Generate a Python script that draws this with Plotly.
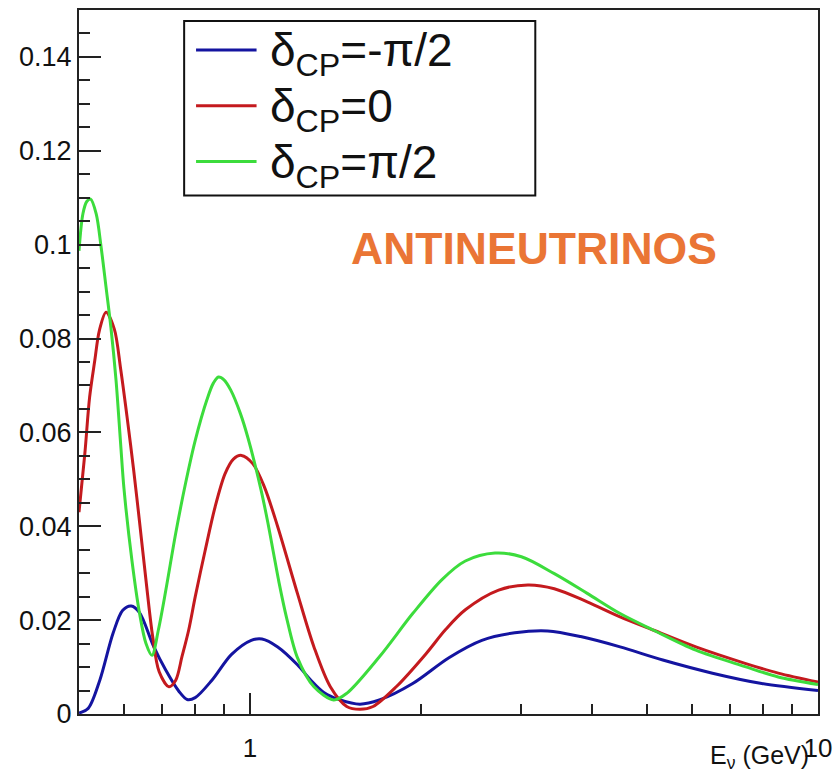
import numpy as np
import plotly.graph_objects as go

# ---------------- data ----------------
energy_green = [0.500, 0.508, 0.516, 0.524, 0.536, 0.547, 0.558, 0.569, 0.581, 0.592,
                0.600, 0.620, 0.639, 0.656, 0.672, 0.690, 0.711, 0.740, 0.770, 0.801,
                0.840, 0.862, 0.880, 0.900, 0.925, 0.962, 0.992, 1.046, 1.075, 1.100,
                1.125, 1.160, 1.212, 1.296, 1.404, 1.480, 1.690, 1.934, 2.180, 2.394,
                2.700, 3.005, 3.434, 3.924, 4.483, 5.124, 6.095, 7.440, 8.510, 10.0]
prob_green = [0.0987, 0.1066, 0.1092, 0.1097, 0.1066, 0.0994, 0.0909, 0.0824, 0.0711, 0.0575,
              0.0480, 0.0325, 0.0215, 0.0150, 0.0125, 0.0180, 0.0264, 0.0385, 0.0491, 0.0583,
              0.0670, 0.0705, 0.0718, 0.0712, 0.0690, 0.0640, 0.0588, 0.0477, 0.0408, 0.0343,
              0.0280, 0.0205, 0.0120, 0.0058, 0.0030, 0.0044, 0.0122, 0.0214, 0.0287, 0.0326,
              0.0343, 0.0335, 0.0299, 0.0257, 0.0214, 0.0179, 0.0136, 0.0101, 0.0079, 0.0063]

energy_red = [0.500, 0.512, 0.522, 0.533, 0.543, 0.558, 0.577, 0.592, 0.608, 0.624,
              0.639, 0.656, 0.674, 0.692, 0.720, 0.740, 0.759, 0.780, 0.801, 0.834,
              0.868, 0.904, 0.935, 0.966, 1.012, 1.060, 1.119, 1.212, 1.296, 1.385,
              1.480, 1.562, 1.647, 1.809, 2.040, 2.210, 2.394, 2.740, 3.085, 3.434,
              3.924, 4.483, 5.124, 6.095, 7.440, 8.510, 10.0]
prob_red = [0.0430, 0.0555, 0.0675, 0.0753, 0.0817, 0.0856, 0.0820, 0.0735, 0.0630, 0.0520,
            0.0410, 0.0285, 0.0165, 0.0090, 0.0058, 0.0072, 0.0122, 0.0179, 0.0250, 0.0349,
            0.0441, 0.0512, 0.0543, 0.0551, 0.0533, 0.0484, 0.0399, 0.0257, 0.0143, 0.0058,
            0.0016, 0.0010, 0.0016, 0.0058, 0.0128, 0.0180, 0.0222, 0.0264, 0.0275, 0.0267,
            0.0239, 0.0207, 0.0179, 0.0143, 0.0108, 0.0087, 0.0068]

energy_blue = [0.500, 0.519, 0.544, 0.574, 0.597, 0.618, 0.639, 0.676, 0.711, 0.750,
               0.775, 0.801, 0.857, 0.928, 1.005, 1.050, 1.119, 1.212, 1.280, 1.349,
               1.441, 1.562, 1.690, 1.934, 2.240, 2.560, 2.925, 3.342, 3.820, 4.483,
               5.330, 6.520, 7.960, 10.0]
prob_blue = [0.0002, 0.0012, 0.0072, 0.0172, 0.0221, 0.0230, 0.0216, 0.0145, 0.0093, 0.0048,
             0.0031, 0.0035, 0.0072, 0.0127, 0.0157, 0.0160, 0.0143, 0.0105, 0.0072, 0.0046,
             0.0030, 0.0021, 0.0030, 0.0065, 0.0120, 0.0157, 0.0173, 0.0177, 0.0165, 0.0143,
             0.0115, 0.0087, 0.0065, 0.0050]

series_names = ["δ<sub>CP</sub>=-π/2", "δ<sub>CP</sub>=0", "δ<sub>CP</sub>=π/2"]
series_colors = ["#1414A0", "#C41A1E", "#3CDC3C"]

y_tickvals = [0, 0.02, 0.04, 0.06, 0.08, 0.10, 0.12, 0.14]
y_ticktext = ["0", "0.02", "0.04", "0.06", "0.08", "0.1", "0.12", "0.14"]
x_tickvals = [1, 10]
x_ticktext = ["1", "10"]
x_minorvals = [0.6, 0.7, 0.8, 0.9, 2, 3, 4, 5, 6, 7, 8, 9]

# ---------------- figure ----------------
W, H = 840, 775
L, R, T, B = 79, 16, 8, 61
pw, ph = W - L - R, H - T - B

def px_x(px):
    return (px - L) / pw

def px_y(py):
    return (H - B - py) / ph

fig = go.Figure()
for xs, ys, name, col in [(energy_blue, prob_blue, series_names[0], series_colors[0]),
                          (energy_red, prob_red, series_names[1], series_colors[1]),
                          (energy_green, prob_green, series_names[2], series_colors[2])]:
    fig.add_trace(go.Scatter(x=xs, y=ys, mode="lines", name=name,
                             line=dict(color=col, width=3, shape="spline", smoothing=0.9),
                             showlegend=False))

font_main = "Liberation Sans, Arial, sans-serif"

fig.update_layout(
    width=W, height=H,
    margin=dict(l=L, r=R, t=T, b=B),
    paper_bgcolor="white", plot_bgcolor="white",
    font=dict(family=font_main, color="black"),
    showlegend=False,
)

fig.update_xaxes(
    type="log", range=[np.log10(0.5), 1.0],
    showline=True, linecolor="#222", linewidth=2, mirror=True,
    showgrid=False, zeroline=False,
    ticks="inside", tickmode="array", tickvals=x_tickvals, ticktext=x_ticktext,
    ticklen=21, tickwidth=2, tickcolor="#222",
    tickfont=dict(size=26, family=font_main, color="#111"),
    ticklabelstandoff=10,
    minor=dict(tickmode="array", tickvals=x_minorvals, ticks="inside",
               ticklen=10, tickwidth=2, tickcolor="#222", showgrid=False),
)
fig.update_yaxes(
    range=[0, 0.15],
    showline=True, linecolor="#222", linewidth=2, mirror=True,
    showgrid=False, zeroline=False,
    ticks="inside", tickmode="array", tickvals=y_tickvals, ticktext=y_ticktext,
    ticklen=22, tickwidth=2, tickcolor="#222",
    tickfont=dict(size=27, family=font_main, color="#111"),
    ticklabelstandoff=0,
    minor=dict(dtick=0.005, tick0=0, ticks="inside", ticklen=11, tickwidth=2,
               tickcolor="#222", showgrid=False),
)

# x-axis title
fig.add_annotation(text="E<sub>ν</sub> (GeV)", xref="paper", yref="paper",
                   x=px_x(817), y=px_y(757), xanchor="right", yanchor="middle",
                   showarrow=False, font=dict(size=25, family=font_main, color="#111"))

# legend box
fig.add_shape(type="rect", xref="paper", yref="paper",
              x0=px_x(185), x1=px_x(539), y0=px_y(194), y1=px_y(19),
              line=dict(color="#111", width=2), fillcolor="white", layer="above")
legend_rows = [48, 104, 160]
for row, label, col in zip(legend_rows, series_names, series_colors):
    fig.add_shape(type="line", xref="paper", yref="paper",
                  x0=px_x(197), x1=px_x(258), y0=px_y(row), y1=px_y(row),
                  line=dict(color=col, width=3), layer="above")
    fig.add_annotation(text=label, xref="paper", yref="paper",
                       x=px_x(270), y=px_y(row + 4), xanchor="left", yanchor="middle",
                       showarrow=False, font=dict(size=46, family=font_main, color="#111"))

# ANTINEUTRINOS label
fig.add_annotation(text="ANTINEUTRINOS", xref="paper", yref="paper",
                   x=px_x(538), y=px_y(247), xanchor="center", yanchor="middle",
                   showarrow=False,
                   font=dict(size=44.5, family=font_main, color="#EA7535", weight=700))

fig.write_html("out.html")
